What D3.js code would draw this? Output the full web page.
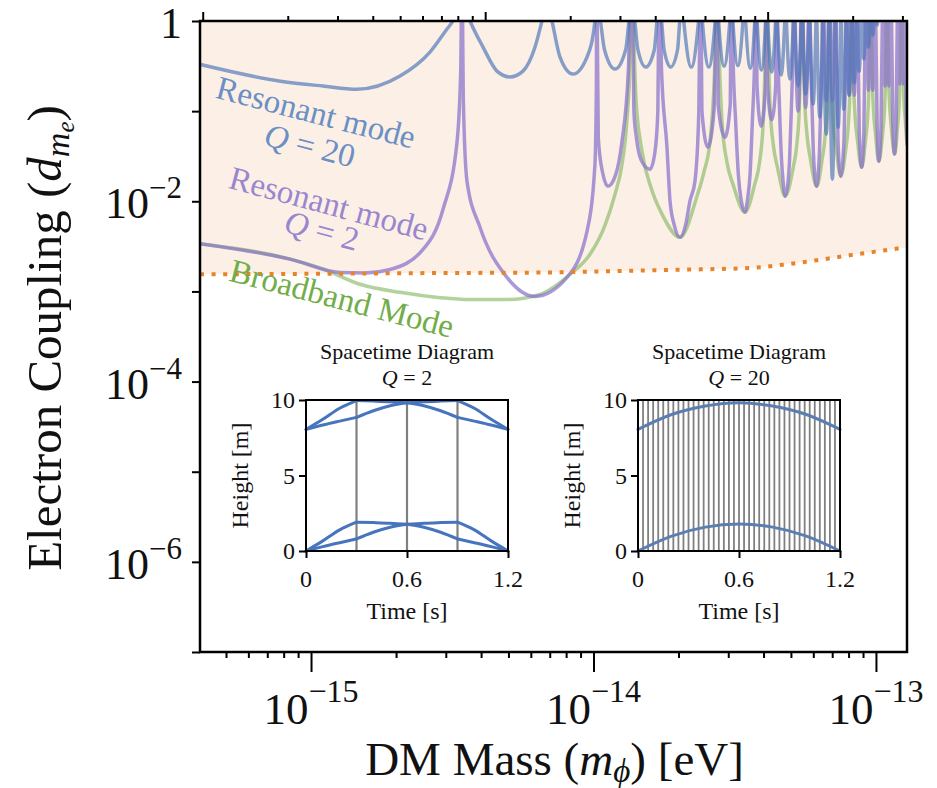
<!DOCTYPE html>
<html>
<head>
<meta charset="utf-8">
<script src="https://cdn.jsdelivr.net/npm/d3@7"></script>
<style>
  body { margin: 0; background: #fff; }
  svg { display: block; }
  text { font-family: "Liberation Serif", "DejaVu Serif", serif; fill: #111; }
</style>
</head>
<body>
<svg id="chart" width="937" height="788"></svg>
<script>
// ---------------------------------------------------------------------------
// Data. Masses are given in units of 1e-15 eV, couplings are d_me values.
// Each sensitivity curve is a list of lobes between neighbouring resonances;
// the first and last point of a lobe sit above the top of the plot.
// ---------------------------------------------------------------------------
const MASS_UNIT = 1e-15;
const PLANCK_EV_S = 4.135667e-15;

const massRange = [0.4045, 128.8];
const couplingRange = [1e-7, 1];

const massMajorTicks = [1, 10, 100];
const massTickExponents = ["−15", "−14", "−13"];
const massMinorTicks = [0.5, 0.6, 0.7, 0.8, 0.9, 2, 3, 4, 5, 6, 7, 8, 9, 20, 30, 40, 50, 60, 70, 80, 90];
const freqMajorTicks = [0.1, 1, 10];
const freqMinorTicks = [0.2, 0.3, 0.4, 0.5, 0.6, 0.7, 0.8, 0.9, 2, 3, 4, 5, 6, 7, 8, 9, 20, 30];
const couplingTicks = [1, 1e-1, 1e-2, 1e-3, 1e-4, 1e-5, 1e-6, 1e-7];
const couplingTickLabels = [
  { value: 1, base: "1", exp: "" },
  { value: 1e-2, base: "10", exp: "−2" },
  { value: 1e-4, base: "10", exp: "−4" },
  { value: 1e-6, base: "10", exp: "−6" }
];

// projected reach (orange dotted); the shaded region lies above it
const projectedReach = [
  [0.4045, 0.00155], [1.076, 0.00157], [2.862, 0.0016], [6.464, 0.00162],
  [10.54, 0.00167], [20.24, 0.00174], [35.81, 0.00182], [46.86, 0.00198],
  [61.83, 0.00222], [80.9, 0.00252], [105.9, 0.00284], [128.8, 0.0031]
];

// resonant mode, Q = 20
const resonantQ20 = [
  [[0.40, 0.333], [0.78, 0.215], [1.1, 0.19], [1.455, 0.175], [2.065, 0.245], [2.637, 0.452], [3.03, 0.815], [3.18, 1.0], [3.42, 1.7]],
  [[3.42, 1.7], [3.654, 1.0], [4.063, 0.514], [4.554, 0.278], [5.06, 0.239], [5.628, 0.278], [6.209, 0.514], [6.571, 1.0], [6.84, 1.7]],
  [[6.84, 1.7], [7.13, 1.0], [7.61, 0.398], [8.46, 0.258], [9.484, 0.398], [10.12, 1.0], [10.26, 1.7]],
  [[10.26, 1.7], [10.58, 1.0], [10.94, 0.48], [11.92, 0.293], [13.0, 0.48], [13.36, 1.0], [13.68, 1.7]],
  [[13.68, 1.7], [14.0, 1.0], [14.36, 0.48], [15.3, 0.308], [16.42, 0.48], [16.78, 1.0], [17.1, 1.7]],
  [[17.1, 1.7], [17.42, 1.0], [17.78, 0.48], [18.75, 0.308], [19.84, 0.48], [20.2, 1.0], [20.52, 1.7]],
  [[20.52, 1.7], [22.2, 0.308], [23.94, 1.7]],
  [[23.94, 1.7], [25.6, 0.308], [27.36, 1.7]],
  [[27.36, 1.7], [29.0, 0.315], [30.78, 1.7]],
  [[30.78, 1.7], [32.45, 0.32], [34.2, 1.7]],
  [[34.2, 1.7], [35.9, 0.3], [37.62, 1.7]],
  [[37.62, 1.7], [39.3, 0.286], [41.04, 1.7]],
  [[41.04, 1.7], [42.75, 0.271], [44.46, 1.7]],
  [[44.46, 1.7], [46.17, 0.251], [47.88, 1.7]],
  [[47.88, 1.7], [49.6, 0.227], [51.3, 1.7]],
  [[51.3, 1.7], [53.0, 0.19], [54.72, 1.7]],
  [[54.72, 1.7], [56.4, 0.155], [58.14, 1.7]],
  [[58.14, 1.7], [59.9, 0.12], [61.56, 1.7]],
  [[61.56, 1.7], [63.3, 0.086], [64.98, 1.7]],
  [[64.98, 1.7], [66.7, 0.0555], [68.4, 1.7]],
  [[68.4, 1.7], [70.1, 0.0176], [71.82, 1.7]],
  [[71.82, 1.7], [73.5, 0.0664], [75.24, 1.7]],
  [[75.24, 1.7], [76.95, 0.105], [78.66, 1.7]],
  [[78.66, 1.7], [80.4, 0.151], [82.08, 1.7]],
  [[82.08, 1.7], [83.8, 0.205], [85.5, 1.7]],
  [[85.5, 1.7], [87.2, 0.278], [88.92, 1.7]],
  [[88.92, 1.7], [90.6, 0.378], [92.34, 1.7]],
  [[92.34, 1.7], [94.05, 0.514], [95.76, 1.7]],
  [[95.76, 1.7], [97.5, 0.699], [99.18, 1.7]],
  [[99.18, 1.7], [100.9, 0.903], [102.6, 1.7]]
];

// resonant mode, Q = 2
const resonantQ2 = [
  [[0.40, 0.0034], [0.843, 0.00228], [1.266, 0.00162], [1.55, 0.0016], [1.904, 0.00175], [2.492, 0.00292], [2.933, 0.00815], [3.287, 0.0453], [3.39, 0.3], [3.423, 5]],
  [[3.423, 5], [3.46, 0.14], [3.566, 0.0167], [3.965, 0.00515], [4.941, 0.00143], [6.209, 0.00088], [8.057, 0.00143], [9.484, 0.00464], [10.12, 0.0259], [10.24, 0.2], [10.26, 5]],
  [[10.26, 5], [10.4, 0.05], [10.8, 0.02], [11.25, 0.0147], [12.0, 0.02], [12.6, 0.045], [13.3, 0.3], [13.68, 5]],
  [[13.68, 5], [13.9, 0.1], [14.2, 0.05], [14.8, 0.028], [15.85, 0.0227], [16.5, 0.035], [16.9, 0.1], [17.1, 5]],
  [[17.1, 5], [17.4, 0.3], [18.2, 0.04], [18.66, 0.0101], [19.3, 0.0055], [20.24, 0.00398], [21.2, 0.0055], [21.96, 0.0101], [22.87, 0.0167], [23.6, 0.1], [23.94, 5]],
  [[23.94, 5], [24.2, 0.1], [25.4, 0.0398], [26.7, 0.1], [27.36, 5]],
  [[27.36, 5], [27.6, 0.12], [29.2, 0.0514], [30.5, 0.12], [30.78, 5]],
  [[30.78, 5], [31.1, 0.57], [31.87, 0.0755], [32.6, 0.019], [33.3, 0.0105], [34.39, 0.00758], [35.1, 0.0105], [35.8, 0.019], [36.5, 0.0755], [37.3, 0.57], [37.62, 5]],
  [[37.62, 5], [37.9, 0.2], [39.2, 0.068], [40.7, 0.2], [41.04, 5]],
  [[41.04, 5], [41.3, 0.2], [42.75, 0.08], [44.2, 0.2], [44.46, 5]],
  [[44.46, 5], [44.77, 0.86], [45.55, 0.11], [46.31, 0.029], [46.96, 0.016], [47.7, 0.0114], [48.8, 0.016], [49.45, 0.029], [50.2, 0.11], [50.99, 0.86], [51.3, 5]],
  [[51.3, 5], [53.0, 0.1], [54.72, 5]],
  [[54.72, 5], [56.4, 0.11], [58.14, 5]],
  [[58.14, 5], [58.45, 1.1], [59.23, 0.147], [59.99, 0.037], [60.64, 0.0205], [61.6, 0.0147], [62.48, 0.0205], [63.13, 0.037], [63.89, 0.147], [64.67, 1.1], [64.98, 5]],
  [[64.98, 5], [66.7, 0.13], [68.4, 5]],
  [[68.4, 5], [70.1, 0.13], [71.82, 5]],
  [[71.82, 5], [73.4, 0.045], [75.0, 0.019], [77.0, 0.045], [78.66, 5]],
  [[78.66, 5], [80.4, 0.15], [82.08, 5]],
  [[82.08, 5], [83.8, 0.15], [85.5, 5]],
  [[85.5, 5], [87.3, 0.057], [89.0, 0.0239], [90.6, 0.057], [92.34, 5]],
  [[92.34, 5], [94.05, 0.17], [95.76, 5]],
  [[95.76, 5], [97.5, 0.17], [99.18, 5]],
  [[99.18, 5], [101.0, 0.066], [102.4, 0.0278], [104.2, 0.066], [106.02, 5]],
  [[106.02, 5], [107.7, 0.19], [109.44, 5]],
  [[109.44, 5], [111.15, 0.19], [112.86, 5]],
  [[112.86, 5], [114.7, 0.08], [116.3, 0.0334], [117.9, 0.08], [119.7, 5]],
  [[119.7, 5], [121.4, 0.2], [123.12, 5]],
  [[123.12, 5], [124.8, 0.2], [126.54, 5]],
  [[126.54, 5], [128.0, 0.095], [129.6, 0.04], [131.2, 0.095], [133.38, 5]]
];

// broadband mode
const broadband = [
  [[0.40, 0.0034], [0.843, 0.00228], [1.1, 0.00178], [1.491, 0.0012], [2.065, 0.000977], [2.862, 0.000853], [3.654, 0.000812], [4.941, 0.000812], [6.464, 0.000928], [8.256, 0.00155], [9.719, 0.00258], [10.98, 0.00541], [11.92, 0.012], [12.62, 0.0259], [13.14, 0.0815], [13.47, 0.378], [13.68, 5]],
  [[13.68, 5], [14.14, 0.136], [14.85, 0.0359], [16.0, 0.014], [17.48, 0.0072], [20.24, 0.00398], [23.25, 0.0114], [24.6, 0.021], [25.85, 0.0464], [26.92, 0.378], [27.36, 5]],
  [[27.36, 5], [27.84, 0.45], [28.52, 0.075], [29.69, 0.027], [31.19, 0.0154], [34.39, 0.00758], [37.21, 0.0154], [38.71, 0.027], [39.88, 0.075], [40.56, 0.45], [41.04, 5]],
  [[41.04, 5], [41.52, 0.68], [42.2, 0.11], [43.37, 0.041], [44.87, 0.0233], [47.7, 0.0114], [50.89, 0.0233], [52.39, 0.041], [53.56, 0.11], [54.24, 0.68], [54.72, 5]],
  [[54.72, 5], [55.2, 0.88], [55.88, 0.147], [57.05, 0.053], [58.55, 0.03], [61.7, 0.0147], [64.57, 0.03], [66.07, 0.053], [67.24, 0.147], [67.92, 0.88], [68.4, 5]],
  [[68.4, 5], [68.88, 1.14], [69.56, 0.19], [70.73, 0.068], [72.23, 0.0387], [75.1, 0.019], [78.25, 0.0387], [79.75, 0.068], [80.92, 0.19], [81.6, 1.14], [82.08, 5]],
  [[82.08, 5], [82.56, 1.43], [83.24, 0.239], [84.41, 0.086], [85.91, 0.049], [89.0, 0.0239], [91.93, 0.049], [93.43, 0.086], [94.6, 0.239], [95.28, 1.43], [95.76, 5]],
  [[95.76, 5], [96.24, 1.67], [96.92, 0.278], [98.09, 0.1], [99.59, 0.057], [102.3, 0.0278], [105.61, 0.057], [107.11, 0.1], [108.28, 0.278], [108.96, 1.67], [109.44, 5]],
  [[109.44, 5], [109.92, 2.0], [110.6, 0.333], [111.77, 0.12], [113.27, 0.068], [116.5, 0.0334], [119.29, 0.068], [120.79, 0.12], [121.96, 0.333], [122.64, 2.0], [123.12, 5]],
  [[123.12, 5], [123.6, 2.4], [124.28, 0.4], [125.45, 0.143], [126.95, 0.0815], [129.6, 0.04], [133.0, 0.0815], [135.0, 0.4], [136.8, 5]]
];

// spacetime diagrams: pulse times [s] and atom trajectories [s, m]
const insetTimeTicks = [0, 0.6, 1.2];
const insetTimeLabels = ["0", "0.6", "1.2"];
const insetHeightTicks = [0, 5, 10];
const pulseTimesQ2 = [0.3, 0.6, 0.9];
const pulseTimesQ20 = [0.03, 0.06, 0.09, 0.12, 0.15, 0.18, 0.21, 0.24, 0.27, 0.3,
  0.33, 0.36, 0.39, 0.42, 0.45, 0.48, 0.51, 0.54, 0.57, 0.6,
  0.63, 0.66, 0.69, 0.72, 0.75, 0.78, 0.81, 0.84, 0.87, 0.9,
  0.93, 0.96, 0.99, 1.02, 1.05, 1.08, 1.11, 1.14, 1.17];
const armsQ2 = [
  [[0, 8.05], [0.1, 8.72], [0.2, 9.45], [0.3, 9.96]],
  [[0, 8.05], [0.1, 8.34], [0.2, 8.6], [0.3, 8.85]],
  [[0.3, 9.96], [0.4, 9.93], [0.5, 9.89], [0.6, 9.82]],
  [[0.3, 8.85], [0.4, 9.29], [0.5, 9.62], [0.6, 9.82]],
  [[0.6, 9.82], [0.7, 9.89], [0.8, 9.93], [0.9, 9.96]],
  [[0.6, 9.82], [0.7, 9.62], [0.8, 9.29], [0.9, 8.85]],
  [[0.9, 9.96], [1.0, 9.45], [1.1, 8.72], [1.2, 8.05]],
  [[0.9, 8.85], [1.0, 8.6], [1.1, 8.34], [1.2, 8.05]],
  [[0, 0], [0.1, 0.67], [0.2, 1.4], [0.3, 1.91]],
  [[0, 0], [0.1, 0.29], [0.2, 0.55], [0.3, 0.8]],
  [[0.3, 1.91], [0.4, 1.88], [0.5, 1.84], [0.6, 1.77]],
  [[0.3, 0.8], [0.4, 1.24], [0.5, 1.57], [0.6, 1.77]],
  [[0.6, 1.77], [0.7, 1.84], [0.8, 1.88], [0.9, 1.91]],
  [[0.6, 1.77], [0.7, 1.57], [0.8, 1.24], [0.9, 0.8]],
  [[0.9, 1.91], [1.0, 1.4], [1.1, 0.67], [1.2, 0]],
  [[0.9, 0.8], [1.0, 0.55], [1.1, 0.29], [1.2, 0]]
];
const armsQ20 = [
  [[0, 8.05], [0.2, 9.04], [0.4, 9.6], [0.6, 9.82], [0.8, 9.6], [1.0, 9.04], [1.2, 8.05]],
  [[0, 0], [0.2, 0.99], [0.4, 1.58], [0.6, 1.78], [0.8, 1.58], [1.0, 0.99], [1.2, 0]]
];

// ---------------------------------------------------------------------------
// Main panel
// ---------------------------------------------------------------------------
const svg = d3.select("#chart");
const plot = { left: 200, right: 907, top: 21, bottom: 652 };

const x = d3.scaleLog()
  .domain(massRange.map(m => m * MASS_UNIT))
  .range([plot.left, plot.right]);
const y = d3.scaleLog()
  .domain(couplingRange)
  .range([plot.bottom, plot.top]);
const freq = d3.scaleLog()
  .domain(x.domain().map(m => m / PLANCK_EV_S))
  .range(x.range());

svg.append("defs").append("clipPath").attr("id", "plot-clip")
  .append("rect")
  .attr("x", plot.left).attr("y", plot.top)
  .attr("width", plot.right - plot.left).attr("height", plot.bottom - plot.top);

const panel = svg.append("g").attr("clip-path", "url(#plot-clip)");

const px = d => x(d[0] * MASS_UNIT);
const py = d => y(d[1]);

// shaded region above the projected reach
panel.append("path")
  .datum(projectedReach)
  .attr("d", d3.area().x(px).y0(y(couplingRange[1])).y1(py).curve(d3.curveMonotoneX))
  .attr("fill", "#fcf0e6");

const lobeLine = d3.line().x(px).y(py).curve(d3.curveMonotoneX);

function drawCurve(lobes, color, opacity) {
  panel.append("g")
    .attr("opacity", opacity)
    .selectAll("path")
    .data(lobes)
    .join("path")
    .attr("d", lobeLine)
    .attr("fill", "none")
    .attr("stroke", color)
    .attr("stroke-width", 3.5)
    .attr("stroke-linejoin", "round");
}

drawCurve(broadband, "#7fb55c", 0.6);
drawCurve(resonantQ2, "#8a72cc", 0.72);
drawCurve(resonantQ20, "#4a74b8", 0.66);

panel.append("path")
  .datum(projectedReach)
  .attr("d", d3.line().x(px).y(py).curve(d3.curveMonotoneX))
  .attr("fill", "none")
  .attr("stroke", "#e8832a")
  .attr("stroke-width", 4)
  .attr("stroke-dasharray", "4 7.6");

// axes
function styleTicks(sel) {
  sel.select(".domain").remove();
  sel.selectAll(".tick line").attr("stroke", "#000").attr("stroke-width", 2);
  sel.selectAll(".tick text").remove();
}

svg.append("g")
  .attr("transform", `translate(0,${plot.bottom})`)
  .call(d3.axisBottom(x).tickValues(massMajorTicks.map(v => v * MASS_UNIT)).tickSize(20).tickFormat(""))
  .call(styleTicks);
svg.append("g")
  .attr("transform", `translate(0,${plot.bottom})`)
  .call(d3.axisBottom(x).tickValues(massMinorTicks.map(v => v * MASS_UNIT)).tickSize(6).tickFormat(""))
  .call(styleTicks);
svg.append("g")
  .attr("transform", `translate(0,${plot.top})`)
  .call(d3.axisTop(freq).tickValues(freqMajorTicks).tickSize(9).tickFormat(""))
  .call(styleTicks);
svg.append("g")
  .attr("transform", `translate(0,${plot.top})`)
  .call(d3.axisTop(freq).tickValues(freqMinorTicks).tickSize(5).tickFormat(""))
  .call(styleTicks);
svg.append("g")
  .attr("transform", `translate(${plot.left},0)`)
  .call(d3.axisLeft(y).tickValues(couplingTicks).tickSize(8).tickFormat(""))
  .call(styleTicks);

svg.append("rect")
  .attr("x", plot.left).attr("y", plot.top)
  .attr("width", plot.right - plot.left).attr("height", plot.bottom - plot.top)
  .attr("fill", "none").attr("stroke", "#000").attr("stroke-width", 2.5);

// tick labels
svg.append("g").selectAll("text")
  .data(couplingTickLabels)
  .join("text")
  .attr("x", plot.left - 18)
  .attr("y", d => y(d.value) + 17)
  .attr("text-anchor", "end")
  .attr("font-size", 44)
  .each(function (d) {
    const t = d3.select(this);
    t.append("tspan").text(d.base);
    if (d.exp) t.append("tspan").attr("dy", -20).attr("font-size", 31).text(d.exp);
  });

svg.append("g").selectAll("text")
  .data(massMajorTicks)
  .join("text")
  .attr("x", d => x(d * MASS_UNIT))
  .attr("y", 724)
  .attr("text-anchor", "middle")
  .attr("font-size", 45)
  .each(function (d, i) {
    const t = d3.select(this);
    t.append("tspan").text("10");
    t.append("tspan").attr("dy", -22).attr("font-size", 32).text(massTickExponents[i]);
  });

// axis titles
const xTitle = svg.append("text")
  .attr("x", (plot.left + plot.right) / 2 + 1)
  .attr("y", 775)
  .attr("text-anchor", "middle")
  .attr("font-size", 47);
xTitle.append("tspan").text("DM Mass (");
xTitle.append("tspan").attr("font-style", "italic").text("m");
xTitle.append("tspan").attr("font-style", "italic").attr("font-size", 33).attr("dy", 7).text("ϕ");
xTitle.append("tspan").attr("dy", -7).text(") [eV]");

const yTitle = svg.append("text")
  .attr("transform", "translate(61,338) rotate(-90)")
  .attr("text-anchor", "middle")
  .attr("font-size", 49);
yTitle.append("tspan").text("Electron Coupling (");
yTitle.append("tspan").attr("font-style", "italic").text("d");
yTitle.append("tspan").attr("font-style", "italic").attr("font-size", 34).attr("dy", 8).text("m");
yTitle.append("tspan").attr("font-style", "italic").attr("font-size", 25).attr("dy", 5).text("e");
yTitle.append("tspan").attr("dy", -13).text(")");

// curve annotations
function annotate(cx, cy, angle, color, parts) {
  const t = svg.append("text")
    .attr("transform", `translate(${cx},${cy}) rotate(${angle})`)
    .attr("text-anchor", "middle")
    .attr("dy", "0.35em")
    .attr("font-size", 33)
    .style("fill", color);
  parts.forEach(p => t.append("tspan").attr("font-style", p.italic ? "italic" : null).text(p.text));
}
annotate(316, 112, 14.5, "#6b8fc4", [{ text: "Resonant mode" }]);
annotate(310, 145, 14.5, "#6b8fc4", [{ text: "Q", italic: true }, { text: " = 20" }]);
annotate(329, 203, 15, "#9a86cf", [{ text: "Resonant mode" }]);
annotate(322, 230, 15, "#9a86cf", [{ text: "Q", italic: true }, { text: " = 2" }]);
annotate(342, 298, 14.5, "#72ad4a", [{ text: "Broadband Mode" }]);

// ---------------------------------------------------------------------------
// Spacetime diagram insets
// ---------------------------------------------------------------------------
function drawInset(left, qLabel, pulses, arms, pulseWidth, armColor, curve) {
  const frame = { left: left, right: left + 202, top: 400, bottom: 551 };
  const ix = d3.scaleLinear().domain([0, 1.2]).range([frame.left, frame.right]);
  const iy = d3.scaleLinear().domain([0, 10]).range([frame.bottom, frame.top]);
  const g = svg.append("g");
  const cx = (frame.left + frame.right) / 2;

  g.append("rect")
    .attr("x", frame.left).attr("y", frame.top)
    .attr("width", frame.right - frame.left).attr("height", frame.bottom - frame.top)
    .attr("fill", "#fff");

  g.append("g").selectAll("line")
    .data(pulses)
    .join("line")
    .attr("x1", d => ix(d)).attr("x2", d => ix(d))
    .attr("y1", iy(0)).attr("y2", iy(10))
    .attr("stroke", "#808080")
    .attr("stroke-width", pulseWidth);

  g.append("g").selectAll("path")
    .data(arms)
    .join("path")
    .attr("d", d3.line().x(d => ix(d[0])).y(d => iy(d[1])).curve(curve))
    .attr("fill", "none")
    .attr("stroke", armColor)
    .attr("stroke-width", 3)
    .attr("stroke-linecap", "round");

  g.append("g")
    .attr("transform", `translate(0,${frame.bottom})`)
    .call(d3.axisBottom(ix).tickValues(insetTimeTicks).tickSize(7).tickFormat(""))
    .call(styleTicks);
  g.append("g")
    .attr("transform", `translate(${frame.left},0)`)
    .call(d3.axisLeft(iy).tickValues(insetHeightTicks).tickSize(7).tickFormat(""))
    .call(styleTicks);

  g.append("rect")
    .attr("x", frame.left).attr("y", frame.top)
    .attr("width", frame.right - frame.left).attr("height", frame.bottom - frame.top)
    .attr("fill", "none").attr("stroke", "#000").attr("stroke-width", 2);

  g.append("g").selectAll("text")
    .data(insetTimeTicks)
    .join("text")
    .attr("x", d => ix(d)).attr("y", 587)
    .attr("text-anchor", "middle").attr("font-size", 24)
    .text((d, i) => insetTimeLabels[i]);
  g.append("g").selectAll("text")
    .data(insetHeightTicks)
    .join("text")
    .attr("x", frame.left - 11).attr("y", d => iy(d) + 8)
    .attr("text-anchor", "end").attr("font-size", 24)
    .text(d => d);

  g.append("text")
    .attr("x", cx).attr("y", 619)
    .attr("text-anchor", "middle").attr("font-size", 24)
    .text("Time [s]");
  g.append("text")
    .attr("transform", `translate(${frame.left - 58},${(frame.top + frame.bottom) / 2}) rotate(-90)`)
    .attr("text-anchor", "middle").attr("font-size", 24)
    .text("Height [m]");

  g.append("text")
    .attr("x", cx).attr("y", 359)
    .attr("text-anchor", "middle").attr("font-size", 22)
    .text("Spacetime Diagram");
  const q = g.append("text")
    .attr("x", cx).attr("y", 385)
    .attr("text-anchor", "middle").attr("font-size", 22);
  q.append("tspan").attr("font-style", "italic").text("Q");
  q.append("tspan").text(" = " + qLabel);
}

drawInset(306, "2", pulseTimesQ2, armsQ2, 2.2, "#4674bd", d3.curveMonotoneX);
drawInset(638, "20", pulseTimesQ20, armsQ20, 1.8, "#5a7eb2", d3.curveCatmullRom);
</script>
</body>
</html>
